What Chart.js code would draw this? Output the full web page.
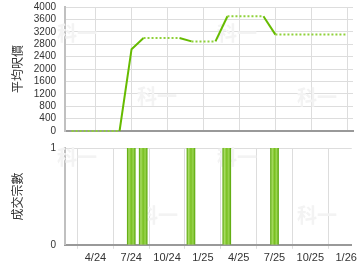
<!DOCTYPE html>
<html lang="zh-Hant">
<head>
  <meta charset="UTF-8" />
  <title>平均呎價 / 成交宗數</title>
  <script src="https://cdn.jsdelivr.net/npm/chart.js"></script>
  <style>
    html, body { margin: 0; padding: 0; background: #fff; }
    .wrap { position: relative; width: 360px; }
    #top { height: 138px; }
    #bottom { height: 132px; }
  </style>
</head>
<body>
  <div class="wrap" id="top"><canvas id="priceChart"></canvas></div>
  <div class="wrap" id="bottom"><canvas id="dealChart"></canvas></div>

  <script>
    // months counted from Jan 2024 (0 = 1/24)
    const tickMonths = [3, 6, 9, 12, 15, 18, 21, 24];
    const tickLabels = ['4/24', '7/24', '10/24', '1/25', '4/25', '7/25', '10/25', '1/26'];

    const priceMonths = [1, 2, 3, 4, 5, 6, 7, 8, 9, 10, 11, 12, 13, 14, 15, 16, 17, 18, 19, 20, 21, 22, 23, 24];
    const avgPrice = [0, 0, 0, 0, 0, 2640, 3000, 3000, 3000, 3000, 2890, 2890, 2890, 3700, 3700, 3700, 3700, 3110, 3110, 3110, 3110, 3110, 3110, 3110];

    const dealMonths = [6, 7, 11, 14, 18];
    const dealCount = [1, 1, 1, 1, 1];

    const xMin = 0.45, xMax = 24.47;
    const fam = "'Liberation Sans', Arial, sans-serif";
    const txt = '#333';

    function monthTicks(scale) {
      scale.ticks = tickMonths.map(v => ({ value: v }));
    }
    function monthLabel(value) {
      const i = tickMonths.indexOf(value);
      return i < 0 ? '' : tickLabels[i];
    }
    // fixed y axis box, no extra room for end labels
    function fixY(a) {
      a.width = 65;
      a.paddingTop = 0;
      a.paddingBottom = 0;
    }

    // faint "科一" watermark
    function watermark(spots) {
      return {
        id: 'wm',
        beforeDatasetsDraw(chart) {
          const c = chart.ctx;
          c.save();
          c.fillStyle = '#f3f3f3';
          c.font = "bold 20px 'Noto Sans CJK TC', sans-serif";
          c.textAlign = 'center';
          c.textBaseline = 'middle';
          spots.forEach(p => c.fillText('科一', p[0], p[1]));
          c.restore();
        }
      };
    }

    const dealHas = m => dealMonths.includes(m);

    new Chart(document.getElementById('priceChart'), {
      type: 'line',
      data: {
        datasets: [{
          data: priceMonths.map((m, i) => ({ x: m, y: avgPrice[i] })),
          borderColor: '#66bb00',
          borderWidth: 2,
          pointRadius: 0,
          tension: 0,
          clip: false,
          segment: {
            borderDash: ctx => dealHas(priceMonths[ctx.p1DataIndex]) ? [] : [2, 2],
            borderColor: ctx => dealHas(priceMonths[ctx.p1DataIndex]) ? '#66bb00' : '#8fd13a'
          }
        }]
      },
      options: {
        responsive: true,
        maintainAspectRatio: false,
        animation: false,
        layout: { padding: { top: 7, right: 7, bottom: 7, left: 0 } },
        plugins: { legend: { display: false }, tooltip: { enabled: false } },
        scales: {
          x: {
            type: 'linear',
            min: xMin,
            max: xMax,
            afterBuildTicks: monthTicks,
            ticks: { display: false },
            grid: { color: '#dddddd', drawTicks: false },
            border: { color: '#999999', width: 2 }
          },
          y: {
            min: 0,
            max: 4000,
            afterFit: fixY,
            ticks: { stepSize: 400, autoSkip: false, color: txt, font: { family: fam, size: 10 }, padding: 9,
                     callback: v => String(v) },
            grid: { color: '#dddddd', drawTicks: false },
            border: { color: '#c0c0c0', width: 2 },
            title: { display: true, text: '平均呎價', color: txt, padding: { top: 10, bottom: 0 },
                     font: { family: "'Noto Sans CJK TC', sans-serif", size: 12 } }
          }
        }
      },
      plugins: [watermark([[77, 33], [157, 96], [237, 33], [317, 97]])]
    });

    new Chart(document.getElementById('dealChart'), {
      type: 'bar',
      data: {
        datasets: [{
          data: dealMonths.map((m, i) => ({ x: m, y: dealCount[i] })),
          barThickness: 8,
          borderWidth: 0,
          backgroundColor: ctx => {
            const ch = ctx.chart;
            if (!ch.chartArea || !ctx.raw) return '#88cc33';
            const px = ch.scales.x.getPixelForValue(ctx.raw.x);
            const g = ch.ctx.createLinearGradient(px - 4, 0, px + 4, 0);
            g.addColorStop(0, '#5aa80a');
            g.addColorStop(0.2, '#a9dc64');
            g.addColorStop(0.5, '#78c020');
            g.addColorStop(0.75, '#9bd452');
            g.addColorStop(1, '#5aa80a');
            return g;
          }
        }]
      },
      options: {
        responsive: true,
        maintainAspectRatio: false,
        animation: false,
        layout: { padding: { top: 10, right: 7, bottom: 2, left: 0 } },
        plugins: { legend: { display: false }, tooltip: { enabled: false } },
        scales: {
          x: {
            type: 'linear',
            min: xMin,
            max: xMax,
            offset: false,
            afterBuildTicks: monthTicks,
            ticks: { color: txt, font: { family: fam, size: 11 }, padding: 3, maxRotation: 0, autoSkip: false,
                     callback: monthLabel },
            grid: { color: '#dddddd', tickLength: 4 },
            border: { color: '#999999', width: 2 }
          },
          y: {
            min: 0,
            max: 1,
            afterFit: fixY,
            ticks: { stepSize: 1, color: txt, font: { family: fam, size: 10 }, padding: 9 },
            grid: { color: '#dddddd', drawTicks: false },
            border: { color: '#c0c0c0', width: 2 },
            title: { display: true, text: '成交宗數', color: txt, padding: { top: 10, bottom: 0 },
                     font: { family: "'Noto Sans CJK TC', sans-serif", size: 12 } }
          }
        }
      },
      plugins: [watermark([[77, 19], [158, 77], [237, 19], [317, 77]])]
    });
  </script>
</body>
</html>
